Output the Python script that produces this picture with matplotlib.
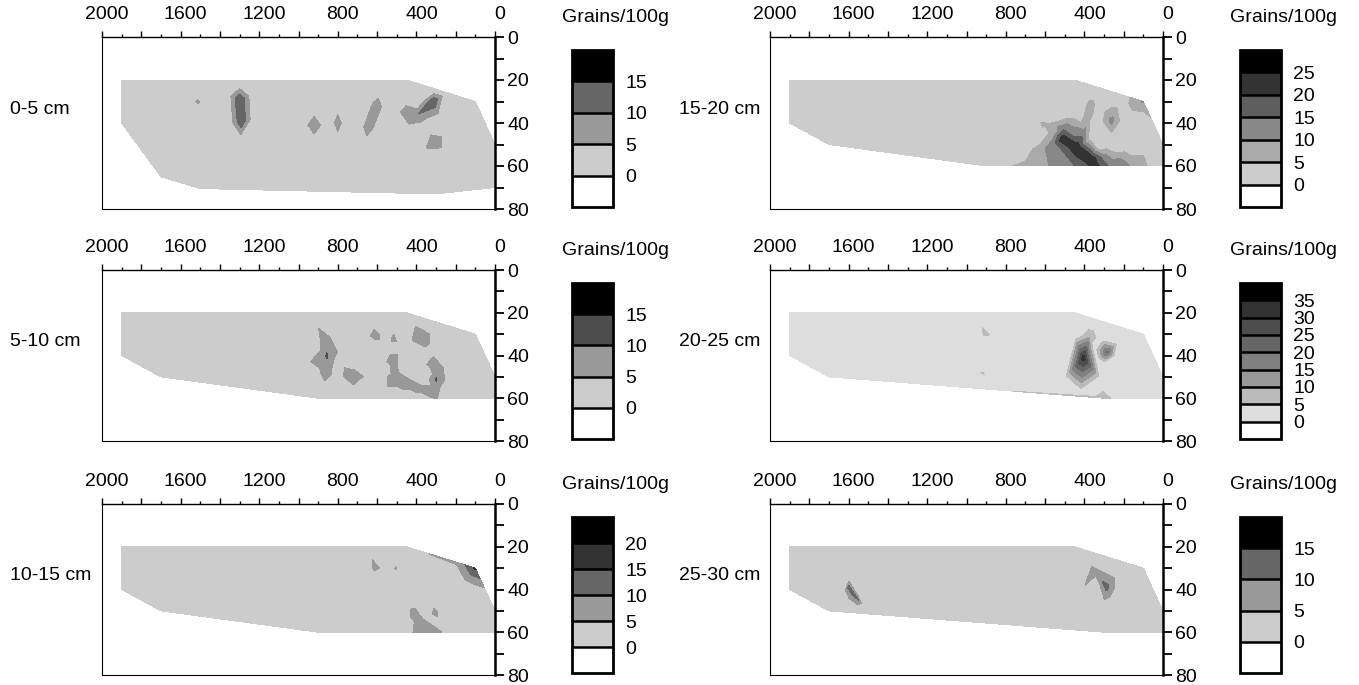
import numpy as np
import matplotlib
matplotlib.use('Agg')
import matplotlib.pyplot as plt
import matplotlib.tri as mtri
from matplotlib.colors import ListedColormap, BoundaryNorm
from matplotlib.ticker import MultipleLocator, FuncFormatter
from matplotlib.transforms import ScaledTranslation

plt.rcParams['font.family'] = ['Liberation Sans', 'DejaVu Sans']

W, H = 1359, 685

# ---------------- data: (distance, depth, grains/100g) samples per layer ----------------
samples_0_5 = [
    (1900, 20, 1), (450, 20, 1), (100, 30, 1), (0, 50, 1), (0, 70, 1), (300, 73, 1),
    (1500, 70.5, 1), (1700, 65, 1), (1900, 40, 1),
    (1100, 30, 1), (1100, 55, 1), (700, 58, 1), (1500, 55, 1), (150, 45, 1), (500, 60, 1),
    (900, 65, 1), (1750, 40, 1),
    (1513, 30, 5.8), (1513, 25, 1), (1513, 36, 1), (1455, 30, 1), (1575, 30, 1),
    (1300, 29, 14.8), (1290, 39, 14.8), (1300, 22, 1), (1362, 27, 1), (1233, 27, 1),
    (1352, 40, 1), (1228, 38, 1), (1295, 48, 1),
    (920, 41, 9), (985, 41, 1), (855, 41, 1), (920, 33, 1), (920, 49, 1),
    (800, 40, 9), (835, 40, 1), (765, 40, 1), (800, 32, 1), (800, 48, 1),
    (600, 32, 9), (645, 42, 9), (588, 25, 1), (662, 50, 1), (555, 33, 1), (640, 29, 1),
    (600, 43, 1), (690, 42, 1),
    (405, 37, 9), (500, 27, 1), (385, 30, 1), (400, 54, 1), (470, 44, 1), (350, 42, 1),
    (315, 30, 14.5), (435, 21.5, 1), (310, 24.8, 1), (250, 26.5, 1), (180, 31, 1), (280, 38, 1),
    (300, 49, 9), (240, 44, 1), (306, 61, 1), (350, 55, 1), (250, 54, 1),
]

samples_5_10 = [
    (1900, 20, 1), (450, 20, 1), (100, 30, 1), (0, 50, 1), (0, 60, 1), (900, 60, 1),
    (1700, 50, 1), (1900, 40, 1), (350, 60, 1), (300, 60, 6), (250, 60, 1), (600, 60, 1),
    (500, 60, 1), (420, 60, 1),
    (1200, 40, 1), (1500, 35, 1), (1000, 45, 1), (700, 30, 1), (150, 45, 1), (100, 55, 1),
    (1300, 52, 1),
    (870, 32, 8), (855, 40, 10.5), (858, 48, 8), (935, 21, 1), (800, 31, 1), (790, 42, 1),
    (800, 50, 1), (910, 36, 1), (920, 50, 1), (880, 57, 1),
    (742, 49.5, 9), (765, 37, 1), (600, 50, 1), (700, 58, 1), (690, 44, 1),
    (602, 31, 7), (644, 22, 1), (557, 30, 1), (602, 42.7, 1), (630, 35, 1),
    (370, 31, 9), (440, 21.5, 1), (294, 29, 1), (340, 41, 1), (414, 44, 1),
    (514, 33, 7), (514, 43, 8), (510, 50, 8), (514, 24, 1), (554, 35, 1), (474, 35, 1),
    (554, 47, 1), (470, 45, 1),
    (450, 53, 7.5), (380, 56, 7.5), (325, 58.5, 8), (400, 49, 1), (360, 51, 1),
    (320, 42, 7), (285, 47, 8), (300, 51, 10.5), (300, 56, 8), (300, 38, 1), (230, 45, 1),
    (225, 52, 1), (262, 57, 1),
]

samples_10_15 = [
    (1900, 20, 1), (450, 20, 1), (100, 30, 16), (0, 50, 1), (0, 60, 1), (900, 60, 1),
    (1700, 50, 1), (1900, 40, 1), (430, 60, 4), (380, 60, 8), (320, 60, 9), (270, 60, 5),
    (240, 60, 1), (600, 60, 1), (180, 27.7, 7), (320, 23.7, 5.5), (50, 40, 4),
    (1200, 40, 1), (1500, 35, 1), (1000, 45, 1), (800, 30, 1), (700, 50, 1), (200, 50, 1),
    (100, 55, 1), (1300, 52, 1), (600, 55, 1),
    (125, 33, 10), (330, 25.5, 1), (230, 29.5, 1), (175, 37.5, 1), (70, 42, 1),
    (605, 30, 8), (652, 21, 1), (563, 30, 1), (600, 44, 1), (640, 33, 1),
    (505, 30, 5.6), (505, 25, 1), (505, 35, 1), (470, 30, 1), (540, 30, 1),
    (415, 51, 7.5), (380, 55, 7.5), (305, 51, 7), (445, 45, 1), (460, 55, 1), (395, 45, 1),
    (345, 52, 1), (320, 44, 1), (270, 50, 1), (275, 56, 1),
]

samples_15_20 = [
    (1900, 20, 1), (450, 20, 1), (100, 30, 10.5), (0, 50, 1), (0, 60, 1), (900, 60, 1),
    (1700, 50, 1), (1900, 40, 1), (800, 60, 4.5), (700, 60, 6), (580, 60, 10), (450, 60, 15),
    (340, 60, 22), (280, 60, 15), (170, 60, 10), (80, 60, 5), (180, 27.7, 4), (50, 40, 3),
    (1200, 40, 1), (1500, 35, 1), (1000, 45, 1), (800, 30, 1), (1300, 52, 1),
    (850, 55, 1), (600, 30, 1),
    (510, 47.5, 24), (440, 51.5, 24), (370, 56, 23.5),
    (560, 50, 12.5), (505, 42, 12.5), (455, 45, 12.5), (300, 56, 13), (230, 58, 12.5),
    (640, 54, 7.5), (560, 45, 7.5), (470, 38.5, 7.5), (368, 31, 7.5), (385, 38, 8),
    (400, 44, 11), (250, 55.5, 7.5), (150, 57.5, 7),
    (700, 49, 1), (610, 44, 1), (520, 37, 1), (430, 37, 1), (395, 28, 1), (330, 27, 1),
    (320, 33, 1), (355, 39, 1), (365, 47, 1), (330, 51, 1), (280, 50, 1), (180, 51, 1),
    (600, 41, 5.5),
    (262, 39, 12), (325, 40, 1), (198, 39, 1), (262, 29.5, 1), (262, 47.5, 1),
    (140, 32, 8), (220, 29, 1), (175, 37, 1), (95, 38, 1),
]

samples_20_25 = [
    (1900, 20, 1), (450, 20, 1), (100, 30, 1), (0, 50, 1), (0, 60, 1), (300, 60, 7),
    (1700, 50, 1), (1900, 40, 1), (200, 60, 1),
    (1200, 40, 1), (1500, 35, 1), (1000, 45, 1), (700, 30, 1), (650, 50, 1), (150, 45, 1),
    (100, 55, 1),
    (903, 30, 7.5), (942, 22, 1), (856, 31, 1), (895, 40.4, 1), (935, 32, 1),
    (915, 48.5, 6), (940, 47, 1), (890, 50, 1), (915, 45, 1),
    (405, 41, 33), (379, 24.9, 1), (450, 31.2, 1), (504, 50.7, 1), (316, 50.7, 1),
    (375, 31, 9), (350, 37, 1), (335, 26, 1), (420, 57.5, 1),
    (285, 38.5, 21), (310, 31.9, 1), (226, 33.7, 1), (240, 40.4, 1), (301, 44.1, 1),
    (337, 41.6, 1),
]

samples_25_30 = [
    (1900, 20, 1), (450, 20, 1), (100, 30, 1), (0, 50, 1), (0, 60, 1), (300, 60, 1),
    (1700, 50, 1), (1900, 40, 1),
    (1200, 40, 1), (1000, 45, 1), (800, 30, 1), (700, 50, 1), (1400, 30, 1), (500, 50, 1),
    (150, 45, 1), (100, 55, 1), (1800, 35, 1),
    (1598, 39, 12), (1575, 42, 12), (1550, 45, 10),
    (1597, 34.5, 1), (1630, 41, 1), (1610, 45.5, 1), (1585, 47, 1), (1560, 49, 1),
    (1525, 47.5, 1), (1555, 41, 1), (1578, 37.5, 1),
    (288, 39, 12), (345, 32, 7), (401, 24, 1), (227, 31.7, 1), (221, 39, 1), (304, 48.2, 1),
    (340, 37, 1), (260, 46, 1), (330, 27, 1),
]

layer_labels = ['0-5 cm', '5-10 cm', '10-15 cm', '15-20 cm', '20-25 cm', '25-30 cm']
layer_samples = [samples_0_5, samples_5_10, samples_10_15,
                 samples_15_20, samples_20_25, samples_25_30]
layer_levels = [
    [0, 5, 10, 15],
    [0, 5, 10, 15],
    [0, 5, 10, 15, 20],
    [0, 5, 10, 15, 20, 25],
    [0, 5, 10, 15, 20, 25, 30, 35],
    [0, 5, 10, 15],
]
layer_colors = [
    ['#cccccc', '#999999', '#666666'],
    ['#cccccc', '#999999', '#4d4d4d'],
    ['#cccccc', '#999999', '#666666', '#333333'],
    ['#cccccc', '#aaaaaa', '#888888', '#5e5e5e', '#333333'],
    ['#dddddd', '#bbbbbb', '#999999', '#808080', '#666666', '#4d4d4d', '#333333'],
    ['#cccccc', '#999999', '#666666'],
]
cbar_title = 'Grains/100g'

# ---------------- layout ----------------
fig = plt.figure(figsize=(W / 100, H / 100), dpi=100)

col_x = [(102, 495), (770, 1163)]
row_y = [(37, 209), (270, 441), (504, 675)]
cbar_x = [(572, 613), (1240, 1281)]
title_x = [562, 1230]
label_x = [10, 679]


def px_rect(x0, y0, x1, y1):
    return [x0 / W, 1 - y1 / H, (x1 - x0) / W, (y1 - y0) / H]


def fmt_x(v, p):
    iv = int(round(v))
    return str(iv) if iv % 400 == 0 else ''


shift = ScaledTranslation(5 / 100, 0, fig.dpi_scale_trans)

for i, samples in enumerate(layer_samples):
    col, row = i // 3, i % 3
    x0, x1 = col_x[col]
    y0, y1 = row_y[row]
    ax = fig.add_axes(px_rect(x0, y0, x1, y1))

    xs = np.array([s[0] for s in samples], dtype=float)
    ds = np.array([s[1] for s in samples], dtype=float)
    vs = np.array([s[2] for s in samples], dtype=float)
    tri0 = mtri.Triangulation(xs / 11.0, ds)
    tri = mtri.Triangulation(xs, ds, tri0.triangles)

    levels = layer_levels[i]
    cmap = ListedColormap(layer_colors[i])
    cmap.set_under('white')
    cmap.set_over('black')
    norm = BoundaryNorm(levels, cmap.N)
    cs = ax.tricontourf(tri, vs, levels=levels, cmap=cmap, norm=norm,
                        extend='both', antialiased=False, zorder=1)

    ax.set_xlim(2000, 0)
    ax.set_ylim(80, 0)

    ax.xaxis.tick_top()
    ax.xaxis.set_major_locator(MultipleLocator(200))
    ax.xaxis.set_minor_locator(MultipleLocator(100))
    ax.xaxis.set_major_formatter(FuncFormatter(fmt_x))
    ax.tick_params(axis='x', which='major', direction='out', length=4.2, width=1.0,
                   pad=6.0, labelsize=14)
    ax.tick_params(axis='x', which='minor', direction='out', length=2.0, width=1.0)

    ax.yaxis.tick_right()
    ax.yaxis.set_major_locator(MultipleLocator(20))
    ax.yaxis.set_minor_locator(MultipleLocator(10))
    ax.tick_params(axis='y', which='both', direction='out', length=6.3, width=1.3,
                   pad=2.5, labelsize=14)

    for side, lw in (('left', 0.8), ('bottom', 0.8), ('top', 1.0), ('right', 1.8)):
        ax.spines[side].set_linewidth(lw)
        ax.spines[side].set_zorder(3)

    for t in ax.xaxis.get_major_ticks():
        t.label2.set_transform(t.label2.get_transform() + shift)

    # colorbar
    cx0, cx1 = cbar_x[col]
    cax = fig.add_axes(px_rect(cx0, y0 + 13, cx1, y1 - 2))
    nb = len(levels) - 1
    cb = fig.colorbar(cs, cax=cax, extendrect=True, extendfrac=1.0 / nb,
                      drawedges=True, ticks=levels)
    cb.outline.set_linewidth(2.0)
    cb.dividers.set_linewidth(1.8)
    cb.ax.set_yticklabels([str(l) for l in levels])
    cb.ax.tick_params(length=0, pad=9, labelsize=14)

    fig.text(title_x[col] / W, 1 - (y0 - 15) / H, cbar_title, fontsize=14,
             ha='left', va='baseline')
    fig.text(label_x[col] / W, 1 - (y0 + 72) / H, layer_labels[i], fontsize=14,
             ha='left', va='center')

fig.savefig('out.png', dpi=100)
